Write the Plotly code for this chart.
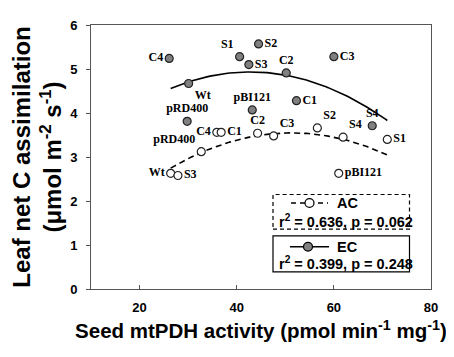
import numpy as np
import plotly.graph_objects as go

# ---- data ----
labels_ec = ["C4", "S1", "S2", "S3", "C2", "C3", "C1", "S4", "Wt", "pBI121", "pRD400"]
x_ec = [26.1, 40.6, 44.5, 42.5, 50.2, 60.0, 52.3, 67.9, 30.1, 43.2, 29.8]
y_ec = [5.24, 5.28, 5.57, 5.10, 4.91, 5.28, 4.28, 3.71, 4.67, 4.07, 3.81]

labels_ac = ["C4", "C1", "C2", "C3", "pRD400", "Wt", "S3", "S2", "S4", "S1", "pBI121"]
x_ac = [35.9, 36.8, 44.3, 47.6, 32.7, 26.4, 27.9, 56.6, 61.9, 71.0, 61.0]
y_ac = [3.56, 3.56, 3.54, 3.48, 3.12, 2.63, 2.58, 3.66, 3.45, 3.40, 2.63]

x_ticks = [20, 40, 60, 80]
y_ticks = [0, 1, 2, 3, 4, 5, 6]

# label placement (style)
pos_ec = ["middle left", "top left", "middle right", "middle right", "top center", "middle right",
          "middle right", "top center", "bottom right", "top center", "top center"]
pos_ac = ["middle left", "middle right", "top center", "top right", "top left", "middle left",
          "middle right", "top right", "top right", "middle right", "middle right"]

fig = go.Figure()

# quadratic fits over the common x span
x_lo = min(x_ec + x_ac) + 0.3
x_hi = max(x_ec + x_ac)

def fit_curve(xs, ys):
    c = np.polyfit(xs, ys, 2)
    xx = np.linspace(x_lo, x_hi, 100)
    return xx, np.polyval(c, xx)

xx, yy = fit_curve(x_ec, y_ec)
fig.add_trace(go.Scatter(x=xx, y=yy, mode="lines", line=dict(color="black", width=1.6),
                         showlegend=False, hoverinfo="skip"))
xx, yy = fit_curve(x_ac, y_ac)
fig.add_trace(go.Scatter(x=xx, y=yy, mode="lines",
                         line=dict(color="black", width=1.6, dash="6px,4px"),
                         showlegend=False, hoverinfo="skip"))

lab_font = dict(family="Liberation Serif", size=12, color="black")
fig.add_trace(go.Scatter(x=x_ec, y=y_ec, mode="markers+text",
                         text=["<b>%s</b>" % t for t in labels_ec], textposition=pos_ec,
                         textfont=lab_font,
                         marker=dict(size=8, color="#808080", line=dict(color="#222", width=1.2)),
                         showlegend=False))
fig.add_trace(go.Scatter(x=x_ac, y=y_ac, mode="markers+text",
                         text=["<b>%s</b>" % t for t in labels_ac], textposition=pos_ac,
                         textfont=lab_font,
                         marker=dict(size=8, color="white", line=dict(color="#222", width=1.2)),
                         showlegend=False))

axis_font = dict(family="Arial, Liberation Sans", size=13, color="black")
fig.update_xaxes(range=[10, 80], tickvals=x_ticks, ticktext=["<b>%d</b>" % v for v in x_ticks],
                 tickfont=axis_font, showline=True, linecolor="#555", linewidth=1, mirror=True,
                 ticks="inside", ticklen=4, tickcolor="#555", showgrid=False, zeroline=False,
                 ticklabelstandoff=6,
                 title=dict(text="<b>Seed mtPDH activity (pmol min<sup>-1</sup> mg<sup>-1</sup>)</b>",
                            font=dict(family="Arial, Liberation Sans", size=20.5, color="black"),
                            standoff=10))
fig.update_yaxes(range=[0, 6], tickvals=y_ticks, ticktext=["<b>%d</b>" % v for v in y_ticks],
                 tickfont=axis_font, showline=True, linecolor="#555", linewidth=1, mirror=True,
                 ticks="outside", ticklen=4, tickcolor="#555", showgrid=False, zeroline=False,
                 ticklabelstandoff=6,
                 title=dict(text="<b>Leaf net C assimilation</b><br><b>(μmol m<sup>-2</sup> s<sup>-1</sup>)</b>",
                            font=dict(family="Arial, Liberation Sans", size=24, color="black"),
                            standoff=3))

# legend boxes
def px(x):
    return (x - 83) / 340.0

def py(y):
    return (281 - y) / 271.0

shapes = [
    dict(type="rect", xref="paper", yref="paper", x0=px(265), x1=px(401.5), y0=py(219.5), y1=py(184),
         line=dict(color="black", width=1.2, dash="4px,3px"), fillcolor="white"),
    dict(type="rect", xref="paper", yref="paper", x0=px(265), x1=px(401.5), y0=py(263.5), y1=py(226.5),
         line=dict(color="black", width=1.2), fillcolor="white"),
    dict(type="line", xref="paper", yref="paper", x0=px(283), x1=px(320), y0=py(192.7), y1=py(192.7),
         line=dict(color="black", width=1.6, dash="5px,4px")),
    dict(type="line", xref="paper", yref="paper", x0=px(282), x1=px(321), y0=py(237.7), y1=py(237.7),
         line=dict(color="black", width=1.6)),
    dict(type="circle", xref="paper", yref="paper", x0=px(297), x1=px(306), y0=py(197.2), y1=py(188.2),
         line=dict(color="black", width=1.2), fillcolor="white"),
    dict(type="circle", xref="paper", yref="paper", x0=px(295.5), x1=px(304.5), y0=py(242.2), y1=py(233.2),
         line=dict(color="black", width=1.2), fillcolor="#808080"),
]
leg_font = dict(family="Arial, Liberation Sans", size=14.5, color="black")
annotations = [
    dict(text="<b>AC</b>", xref="paper", yref="paper", x=px(327), y=py(192.7), xanchor="left",
         yanchor="middle", showarrow=False, font=leg_font),
    dict(text="<b>r<sup>2</sup> = 0.636, p = 0.062</b>", xref="paper", yref="paper", x=px(337.5), y=py(211.5),
         xanchor="center", yanchor="middle", showarrow=False, font=leg_font),
    dict(text="<b>EC</b>", xref="paper", yref="paper", x=px(327), y=py(237.7), xanchor="left",
         yanchor="middle", showarrow=False, font=leg_font),
    dict(text="<b>r<sup>2</sup> = 0.399, p = 0.248</b>", xref="paper", yref="paper", x=px(337.5), y=py(254.5),
         xanchor="center", yanchor="middle", showarrow=False, font=leg_font),
]

fig.update_layout(width=454, height=357, margin=dict(l=83, r=31, t=10, b=76),
                  plot_bgcolor="white", paper_bgcolor="white",
                  shapes=shapes, annotations=annotations, showlegend=False)

fig.write_html("out.html")
